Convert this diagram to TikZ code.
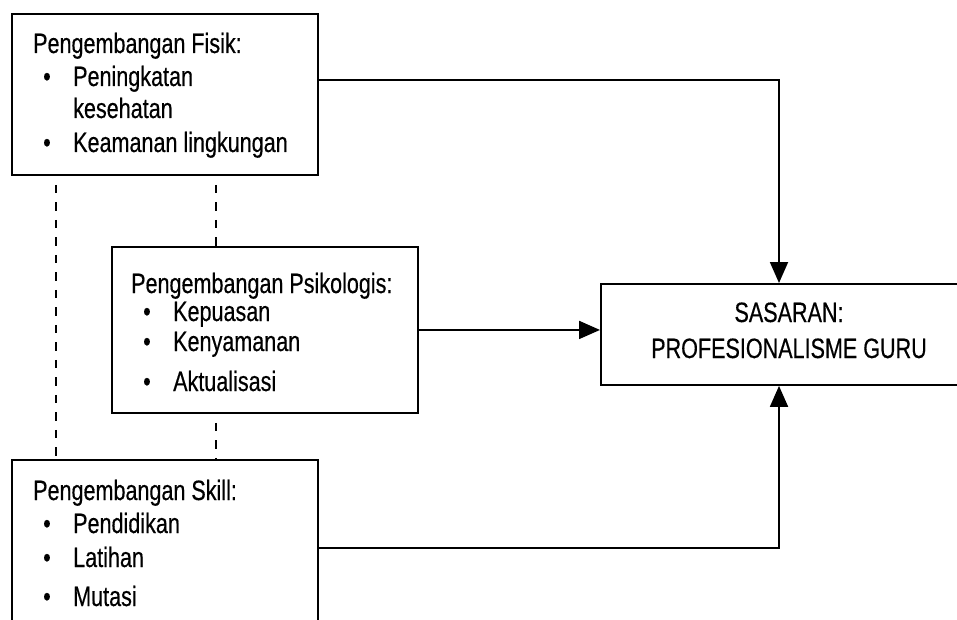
\documentclass[tikz,border=0pt]{standalone}
\usepackage{fontspec}
\setmainfont{Liberation Sans}[FakeStretch=0.77, FakeBold=0.4]
\usetikzlibrary{arrows.meta}
\begin{document}
\begin{tikzpicture}[x=1pt,y=-1pt,
  box/.style={draw=black, line width=1.9pt, rectangle, inner sep=0pt, anchor=north west},
  txt/.style={inner sep=0pt, anchor=base west, font=\fontsize{28}{33}\selectfont, text=black},
  ctxt/.style={inner sep=0pt, anchor=base, font=\fontsize{28}{33}\selectfont, text=black},
  link/.style={line width=1.9pt, -{Triangle[length=21pt,width=18pt]}},
  dashline/.style={line width=1.5pt, dash pattern=on 8.5pt off 9pt, dash phase=8.5pt}]
  \useasboundingbox (0,0) rectangle (957,620);
  \begin{scope}
  \clip (0,0) rectangle (957,620);

  % boxes
  \node[box, minimum width=306pt, minimum height=161pt] (fisik) at (11,13) {};
  \node[box, minimum width=306pt, minimum height=166pt] (psiko) at (111,246) {};
  \node[box, minimum width=306pt, minimum height=200pt] (skill) at (11,459) {};
  \node[box, minimum width=378pt, minimum height=101pt] (sasaran) at (600,283) {};

  % physical development
  \node[txt] (f0) at (33,53) {Pengembangan Fisik:};
  \node[txt] (fb1) at (43,86) {•};
  \node[txt] (f1) at (73,86) {Peningkatan};
  \node[txt] (f1b) at (73,118) {kesehatan};
  \node[txt] (fb2) at (43,152) {•};
  \node[txt] (f2) at (73,152) {Keamanan lingkungan};

  % psychological development
  \node[txt] (p0) at (131,293) {Pengembangan Psikologis:};
  \node[txt] (pb1) at (143,321) {•};
  \node[txt] (p1) at (173,321) {Kepuasan};
  \node[txt] (pb2) at (143,351) {•};
  \node[txt] (p2) at (173,351) {Kenyamanan};
  \node[txt] (pb3) at (143,391) {•};
  \node[txt] (p3) at (173,391) {Aktualisasi};

  % skill development
  \node[txt] (s0) at (33,500) {Pengembangan Skill:};
  \node[txt] (sb1) at (43,533) {•};
  \node[txt] (s1) at (73,533) {Pendidikan};
  \node[txt] (sb2) at (43,567) {•};
  \node[txt] (s2) at (73,567) {Latihan};
  \node[txt] (sb3) at (43,606) {•};
  \node[txt] (s3) at (73,606) {Mutasi};

  % goal
  \node[ctxt] (g1) at (789,322) {SASARAN:};
  \node[ctxt] (g2) at (789,358) {PROFESIONALISME GURU};

  % connector anchor points
  \coordinate (fout) at ([yshift=14pt]fisik.east);
  \coordinate (sout) at (skill.east |- 0,548);
  \coordinate (gtop) at ([xshift=179pt]sasaran.north west);
  \coordinate (gbot) at ([xshift=179pt]sasaran.south west);

  % arrows into the goal
  \draw[link] (fout) -| (gtop);
  \draw[link] (psiko.east) -- (psiko.east -| sasaran.west);
  \draw[link] (sout) -| (gbot);

  % dashed links between the development boxes
  \draw[dashline] ([xshift=45pt]fisik.south west) -- ([xshift=45pt]skill.north west);
  \draw[dashline] ([xshift=205pt]fisik.south west) -- ([xshift=205pt]fisik.south west |- psiko.north);
  \draw[dashline] ([xshift=105pt]psiko.south west) -- ([xshift=105pt]psiko.south west |- skill.north);
  \end{scope}
\end{tikzpicture}
\end{document}
